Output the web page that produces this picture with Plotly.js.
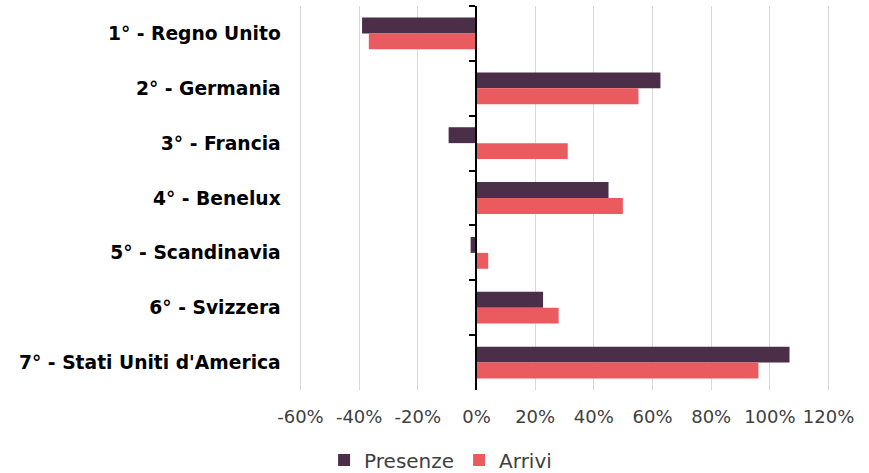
<!DOCTYPE html>
<html>
<head>
<meta charset="utf-8">
<script src="https://cdn.plot.ly/plotly-3.0.1.min.js"></script>
<style>
  html, body { margin: 0; padding: 0; background: #fff; }
  #plot { width: 869px; height: 473px; }
</style>
</head>
<body>
<div id="plot"></div>
<script>
// Categories (top to bottom)
const paesi = [
  "1° - Regno Unito",
  "2° - Germania",
  "3° - Francia",
  "4° - Benelux",
  "5° - Scandinavia",
  "6° - Svizzera",
  "7° - Stati Uniti d'America"
];

// Variazioni percentuali
const presenze = [-39, 62.7, -9.5, 45, -2, 22.7, 106.7];
const arrivi = [-36.7, 55.2, 31.1, 49.9, 4, 28, 96.1];

// Tick labels of the x axis (plain hyphen, as in the original)
const xTicks = [-60, -40, -20, 0, 20, 40, 60, 80, 100, 120];
const xTickText = xTicks.map(v => v + "%");

const fontFamily = "'DejaVu Sans', 'Noto Sans', sans-serif";

const data = [
  {
    y: paesi,
    x: presenze,
    type: "bar",
    orientation: "h",
    name: "Presenze",
    marker: { color: "#4b2e48" },
    hoverinfo: "x+y+name"
  },
  {
    y: paesi,
    x: arrivi,
    type: "bar",
    orientation: "h",
    name: "Arrivi",
    marker: { color: "#ea5b5f" },
    hoverinfo: "x+y+name"
  }
];

const layout = {
  width: 869,
  height: 473,
  margin: { l: 299, r: 39, t: 6, b: 83, autoexpand: false },
  paper_bgcolor: "#ffffff",
  plot_bgcolor: "#ffffff",
  font: { family: fontFamily, size: 18, color: "#404040" },
  barmode: "group",
  bargap: 0.42,
  bargroupgap: 0,
  showlegend: true,
  legend: {
    orientation: "h",
    xref: "container",
    yref: "container",
    x: 0.507,
    xanchor: "center",
    y: 0.0275,
    yanchor: "middle",
    traceorder: "normal",
    itemwidth: 30,
    font: { size: 20, color: "#404040" }
  },
  xaxis: {
    // a bit wider than -60..120 so both edge gridlines are drawn
    range: [-60.5, 120.5],
    tickmode: "array",
    tickvals: xTicks,
    ticktext: xTickText,
    showgrid: true,
    gridcolor: "#d9d9d9",
    gridwidth: 1,
    zeroline: false,
    showline: false,
    ticks: "",
    ticklabelstandoff: 14,
    tickfont: { size: 18, color: "#404040" },
    fixedrange: true
  },
  yaxis: {
    type: "category",
    autorange: "reversed",
    anchor: "free",
    position: 60.5 / 181,
    showline: true,
    linecolor: "#000000",
    linewidth: 2,
    ticks: "outside",
    tickson: "boundaries",
    ticklen: 6,
    tickwidth: 2,
    tickcolor: "#000000",
    ticklabelstandoff: 191,
    showgrid: false,
    tickfont: { size: 18.7, color: "#000000", family: fontFamily, weight: "bold" },
    fixedrange: true
  }
};

Plotly.newPlot("plot", data, layout, { displayModeBar: false, staticPlot: true });
</script>
</body>
</html>
